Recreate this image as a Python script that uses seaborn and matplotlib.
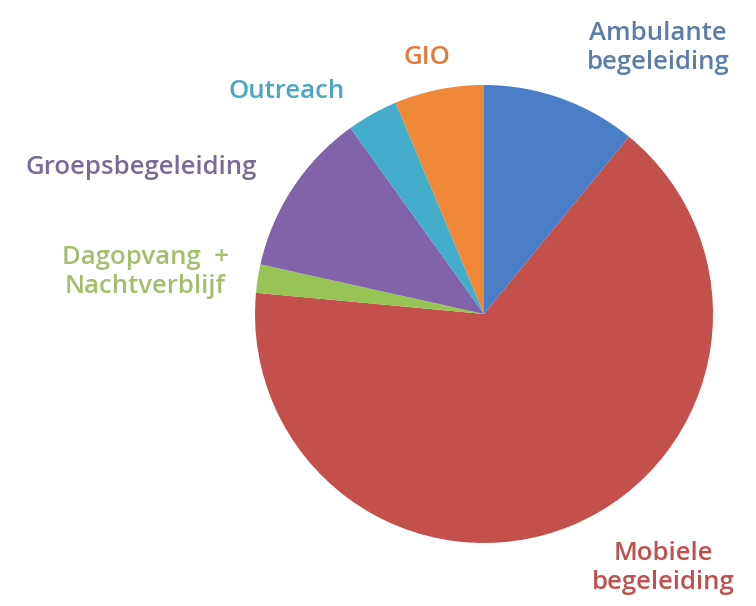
import matplotlib
matplotlib.use("Agg")
import matplotlib.pyplot as plt
import seaborn as sns

# data
categories = ["Ambulante\nbegeleiding", "Mobiele\nbegeleiding", "Dagopvang  +\nNachtverblijf",
              "Groepsbegeleiding", "Outreach", "GIO"]
shares = [10.9, 65.5, 2.0, 11.6, 3.6, 6.3]

slice_colors = ["#4A7EC7", "#C4504C", "#98C455", "#8063A8", "#43ADCB", "#EE8836"]
text_colors = ["#5B7DA9", "#C0504D", "#A2BF6C", "#7A6A9A", "#4DA5C2", "#E07B39"]
# label centres in pixels of the 756x606 picture
label_px = [(658, 48), (663, 568), (145, 272), (141, 168), (287, 92), (427, 58)]

sns.set_theme(style="white")
plt.rcParams["font.family"] = ["Open Sans", "DejaVu Sans"]

W, H = 756, 606
cx, cy, r = 484, 314, 229
fig = plt.figure(figsize=(W / 100, H / 100), dpi=100)
ax = fig.add_axes([(cx - r) / W, (H - cy - r) / H, 2 * r / W, 2 * r / H])

ax.pie(shares, colors=slice_colors, startangle=90, counterclock=False, radius=1,
       wedgeprops=dict(linewidth=0))
ax.set_xlim(-1, 1)
ax.set_ylim(-1, 1)
ax.set_aspect("equal")
ax.axis("off")

for lab, col, (px, py) in zip(categories, text_colors, label_px):
    ax.text((px - cx) / r, (cy - py) / r, lab, color=col, fontsize=18.5,
            fontweight="semibold", ha="center", va="center", linespacing=1.2,
            clip_on=False)

fig.savefig("out.png", dpi=100)
